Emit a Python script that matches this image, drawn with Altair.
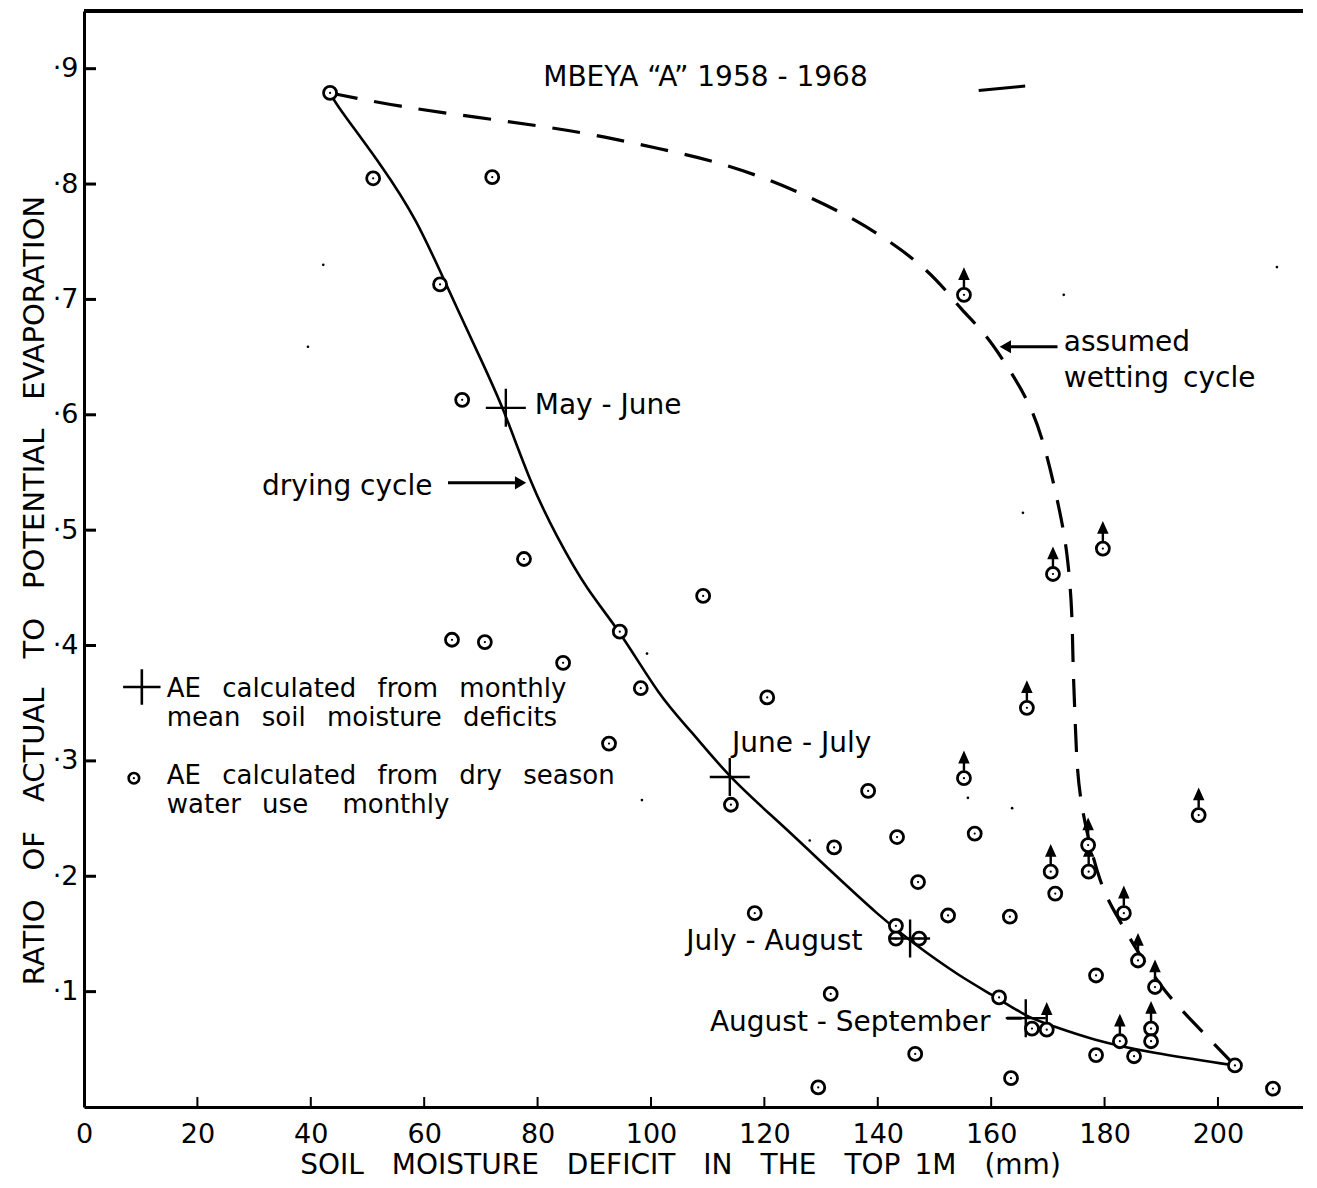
import altair as alt
import pandas as pd

FONT = "DejaVu Sans"
X_MAX = 215
Y_MAX = 0.95
W = 1219
H = 1096
EN = "\u2002"
SP = " " + EN

# ---------------- data ----------------
x_ticks = [0, 20, 40, 60, 80, 100, 120, 140, 160, 180, 200]
y_ticks = [0.1, 0.2, 0.3, 0.4, 0.5, 0.6, 0.7, 0.8, 0.9]

# AE calculated from dry season water use monthly (circles); arrow = upward arrow drawn above
obs_x = [43.4, 51.0, 72.0, 62.8, 66.7, 77.6, 109.2, 64.9, 70.7, 94.5,
         84.5, 98.2, 120.5, 92.6, 114.1, 138.3, 143.4, 132.3, 147.1, 118.3,
         152.4, 143.2, 143.2, 147.3, 155.2, 157.1, 163.3, 131.7, 129.5, 146.6,
         163.5, 161.4, 167.2, 169.8, 178.5, 185.2, 182.7, 188.2, 188.2, 203.0,
         209.7, 178.5, 183.4, 185.9, 188.9, 171.3, 170.5, 177.1, 177.2, 196.6,
         166.3, 170.9, 179.7, 155.2]
obs_y = [0.879, 0.805, 0.806, 0.713, 0.613, 0.475, 0.443, 0.405, 0.403, 0.412,
         0.385, 0.363, 0.355, 0.315, 0.262, 0.274, 0.234, 0.225, 0.195, 0.168,
         0.166, 0.157, 0.146, 0.146, 0.285, 0.237, 0.165, 0.098, 0.017, 0.046,
         0.025, 0.095, 0.068, 0.067, 0.045, 0.044, 0.057, 0.068, 0.057, 0.036,
         0.016, 0.114, 0.168, 0.127, 0.104, 0.185, 0.204, 0.227, 0.204, 0.253,
         0.346, 0.462, 0.484, 0.704]
obs_arrow = [0, 0, 0, 0, 0, 0, 0, 0, 0, 0,
             0, 0, 0, 0, 0, 0, 0, 0, 0, 0,
             0, 0, 0, 0, 1, 0, 0, 0, 0, 0,
             0, 0, 0, 1, 0, 0, 1, 1, 0, 0,
             0, 0, 1, 1, 1, 0, 1, 1, 1, 1,
             1, 1, 1, 1]

# AE calculated from monthly mean soil moisture deficits (crosses)
mm_x = [74.4, 113.9, 145.7, 166.1]
mm_y = [0.606, 0.286, 0.146, 0.077]

# drying cycle (solid)
dry_x = [43.4, 44.6, 52.7, 58.7, 63.3, 69.8, 73.9, 78.7, 83.4, 88.7, 94.5,
         101.6, 106.9, 113.9, 122.8, 131.6, 140.4, 146.2, 154.5, 161.0, 166.3,
         170.4, 178.0, 188.0, 203.0]
dry_y = [0.879, 0.868, 0.815, 0.769, 0.719, 0.650, 0.607, 0.541, 0.494, 0.448, 0.413,
         0.355, 0.327, 0.285, 0.246, 0.205, 0.165, 0.142, 0.113, 0.095, 0.078,
         0.071, 0.058, 0.047, 0.036]

# assumed wetting cycle (dashed)
wet_x = [43.4, 55.7, 69.1, 82.5, 91.9, 101.1, 110.4, 119.8, 127.9, 136.2, 144.4,
         150.6, 154.7, 158.9, 163.0, 167.2, 169.8, 172.1, 173.4, 174.3, 174.4, 174.8,
         175.1, 176.0, 179.2, 182.5, 186.0, 190.7, 195.9, 203.0]
wet_y = [0.879, 0.867, 0.858, 0.849, 0.841, 0.831, 0.821, 0.806, 0.789, 0.769, 0.743,
         0.717, 0.691, 0.671, 0.641, 0.607, 0.567, 0.517, 0.483, 0.431, 0.385, 0.338,
         0.295, 0.255, 0.191, 0.163, 0.133, 0.099, 0.072, 0.036]

# text annotations (plot labels)
ann_text = ["MBEYA \u201cA\u201d 1958 - 1968", "May - June", "drying cycle", "assumed",
            "wetting" + EN + "cycle", "June - July", "July - August", "August - September"]
ann_x = [81.0, 79.5, 31.4, 172.8, 172.8, 114.3, 106.2, 110.4]
ann_y = [0.892, 0.608, 0.537, 0.662, 0.631, 0.315, 0.143, 0.073]

# legend text
leg_text = ["AE" + SP + "calculated" + SP + "from" + SP + "monthly",
            "mean" + SP + "soil" + SP + "moisture" + SP + "deficits",
            "AE" + SP + "calculated" + SP + "from" + SP + "dry" + SP + "season",
            "water" + SP + "use" + SP + EN + "monthly"]
leg_x = [14.6, 14.6, 14.6, 14.6]
leg_y = [0.3625, 0.3370, 0.2870, 0.2615]

# pointer lines
ptr_x = [64.2, 171.7, 162.8, 157.8]
ptr_x2 = [77.0, 162.5, 165.4, 166.0]
ptr_y = [0.541, 0.659, 0.077, 0.881]
ptr_y2 = [0.541, 0.659, 0.077, 0.885]

# stray specks in the original figure
speck_x = [39.5, 42.2, 99.3, 98.4, 128.0, 165.6, 155.9, 163.7, 210.4, 172.8]
speck_y = [0.659, 0.730, 0.393, 0.266, 0.231, 0.515, 0.268, 0.259, 0.728, 0.704]

# ---------------- frames ----------------
obs = pd.DataFrame({"x": obs_x, "y": obs_y, "arrow": obs_arrow})
obs_arr = obs[obs["arrow"] == 1]
mm = pd.DataFrame({"x": mm_x, "y": mm_y})
dry = pd.DataFrame({"x": dry_x, "y": dry_y, "o": list(range(len(dry_x)))})
wet = pd.DataFrame({"x": wet_x, "y": wet_y, "o": list(range(len(wet_x)))})
ann = pd.DataFrame({"x": ann_x, "y": ann_y, "text": ann_text})
leg = pd.DataFrame({"x": leg_x, "y": leg_y, "text": leg_text})
ptr = pd.DataFrame({"x": ptr_x, "x2": ptr_x2, "y": ptr_y, "y2": ptr_y2})
head_r = pd.DataFrame({"x": [ptr_x2[0]], "y": [ptr_y[0]]})
head_l = pd.DataFrame({"x": [ptr_x2[1]], "y": [ptr_y[1]]})
leg_cross = pd.DataFrame({"x": [10.2], "y": [0.364]})
leg_circ = pd.DataFrame({"x": [8.8], "y": [0.285]})
specks = pd.DataFrame({"x": speck_x, "y": speck_y})
xt = pd.DataFrame({"v": x_ticks})
yt = pd.DataFrame({"v": y_ticks})

x_title = (EN + EN).join(["SOIL", "MOISTURE", "DEFICIT", "IN", "THE", "TOP"]) + EN + "1M" + EN + EN + "(mm)"
y_title = (EN + EN).join(["RATIO", "OF", "ACTUAL", "TO", "POTENTIAL", "EVAPORATION"])

x_axis = alt.Axis(values=x_ticks, format="d", title=x_title,
                  ticks=False, grid=False, domainWidth=3, domainColor="black",
                  labelFont=FONT, labelFontSize=27, labelPadding=14, labelColor="black",
                  labelFlush=False,
                  titleFont=FONT, titleFontSize=28, titleFontWeight="normal", titleColor="black",
                  titleX=596, titleY=58, titleAlign="center", titleBaseline="middle")
y_axis = alt.Axis(values=y_ticks, labelExpr="'\u00b7' + format(datum.value * 10, '.0f')",
                  title=y_title,
                  ticks=False, grid=False, domainWidth=3, domainColor="black",
                  labelFont=FONT, labelFontSize=27, labelPadding=6, labelColor="black",
                  labelFlush=False,
                  titleFont=FONT, titleFontSize=29, titleFontWeight="normal", titleColor="black",
                  titleX=-50, titleY=579, titleAngle=270, titleAlign="center", titleBaseline="middle")

xs = alt.Scale(domain=[0, X_MAX], nice=False, zero=False)
ys = alt.Scale(domain=[0, Y_MAX], nice=False, zero=False)


def X(f="x"):
    return alt.X(f, type="quantitative", scale=xs, axis=x_axis)


def Y(f="y"):
    return alt.Y(f, type="quantitative", scale=ys, axis=y_axis)


top_border = alt.Chart(xt).mark_rule(color="black", strokeWidth=4).encode(
    x=alt.value(0), x2=alt.value(W), y=alt.value(0))

y_tick_marks = alt.Chart(yt).mark_tick(orient="horizontal", size=12, thickness=3,
                                       color="black", xOffset=6, opacity=1).encode(
    y=Y("v"), x=alt.value(0))
x_tick_marks = alt.Chart(xt).mark_tick(orient="vertical", size=10, thickness=2,
                                       color="black", yOffset=-5, opacity=1).encode(
    x=X("v"), y=alt.value(H))

dry_line = alt.Chart(dry).mark_line(color="black", strokeWidth=2.6, interpolate="basis").encode(
    x=X(), y=Y(), order="o:Q")
wet_line = alt.Chart(wet).mark_line(color="black", strokeWidth=3.2, strokeDash=[28, 17],
                                    interpolate="basis").encode(
    x=X(), y=Y(), order="o:Q")

ARROW = "M0,1L0,-0.1M-0.45,0L0,-1L0.45,0Z"
arrows = alt.Chart(obs_arr).mark_point(shape=ARROW, filled=True, fill="black", stroke="black",
                                       strokeWidth=2.4, size=300, yOffset=-16, opacity=1).encode(
    x=X(), y=Y())

circles = alt.Chart(obs).mark_point(shape="circle", filled=True, fill="white", stroke="black",
                                    strokeWidth=2.8, size=169, opacity=1).encode(x=X(), y=Y())
dots = alt.Chart(obs).mark_point(shape="circle", filled=True, color="black", size=5,
                                 opacity=1).encode(x=X(), y=Y())

CROSS = "M-1,0L1,0M0,-0.95L0,0.95"
crosses = alt.Chart(mm).mark_point(shape=CROSS, filled=False, stroke="black", strokeWidth=2.4,
                                   size=1600, opacity=1).encode(x=X(), y=Y())

leg_c = alt.Chart(leg_cross).mark_point(shape=CROSS, filled=False, stroke="black", strokeWidth=2.6,
                                        size=1400, opacity=1).encode(x=X(), y=Y())
leg_o = alt.Chart(leg_circ).mark_point(shape="circle", filled=True, fill="white", stroke="black",
                                       strokeWidth=2.6, size=110, opacity=1).encode(x=X(), y=Y())
leg_od = alt.Chart(leg_circ).mark_point(shape="circle", filled=True, color="black", size=5,
                                        opacity=1).encode(x=X(), y=Y())

pointers = alt.Chart(ptr).mark_rule(color="black", strokeWidth=3).encode(
    x=X(), x2="x2", y=Y(), y2="y2")
hr = alt.Chart(head_r).mark_point(shape="triangle-right", filled=True, color="black", size=170,
                                  opacity=1).encode(x=X(), y=Y())
hl = alt.Chart(head_l).mark_point(shape="triangle-left", filled=True, color="black", size=170,
                                  opacity=1).encode(x=X(), y=Y())

speck = alt.Chart(specks).mark_point(shape="circle", filled=True, color="black", size=7,
                                     opacity=1).encode(x=X(), y=Y())

texts = alt.Chart(ann).mark_text(font=FONT, fontSize=28, align="left", baseline="middle",
                                 color="black").encode(x=X(), y=Y(), text="text:N")
leg_texts = alt.Chart(leg).mark_text(font=FONT, fontSize=26, align="left", baseline="middle",
                                     color="black").encode(x=X(), y=Y(), text="text:N")

chart = alt.layer(
    top_border, y_tick_marks, x_tick_marks, speck, dry_line, wet_line, pointers, hr, hl,
    arrows, circles, dots, crosses, leg_c, leg_o, leg_od, texts, leg_texts
).properties(
    width=W, height=H,
    autosize=alt.AutoSizeParams(type="none"),
    padding={"left": 76, "top": 3, "right": 0, "bottom": 72},
    background="white",
).configure_view(stroke=None)

chart.save("out.html", embed_options={"renderer": "svg", "actions": False})
